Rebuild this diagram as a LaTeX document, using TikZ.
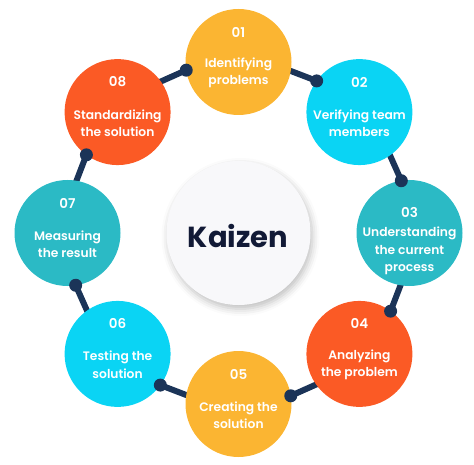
\documentclass[tikz,border=0pt]{standalone}
\usepackage{fontspec}
\setmainfont{Poppins}[UprightFont=* SemiBold, BoldFont=* Bold]
\usetikzlibrary{calc,shadows.blur}
\definecolor{cyel}{HTML}{FBB532}
\definecolor{ccya}{HTML}{0AD4F4}
\definecolor{ctea}{HTML}{2BBAC5}
\definecolor{cora}{HTML}{FB5A25}
\definecolor{navy}{HTML}{1B3458}
\definecolor{ink}{HTML}{121A36}
\definecolor{hub}{HTML}{F8F8FA}
\tikzset{
  stepcirc/.style={circle, minimum size=106pt, inner sep=0pt, fill=#1},
  numtxt/.style={text=white, inner sep=0pt, font=\fontsize{13.5}{16}\selectfont},
  bodytxt/.style={text=white, inner sep=0pt, align=center, font=\fontsize{12.3}{17.5}\selectfont},
  conn/.style={draw=navy, line width=6pt},
  dotm/.style={fill=navy, circle, minimum size=13pt, inner sep=0pt},
  hubcirc/.style={circle, minimum size=144pt, inner sep=0pt, fill=hub,
    blur shadow={shadow xshift=2pt, shadow yshift=-4pt, shadow blur radius=7pt, shadow opacity=25}}
}
\begin{document}
\begin{tikzpicture}[x=1pt,y=-1pt]
\useasboundingbox (0,0) rectangle (474,465);
\coordinate (O) at (238.5,233);
% ring coordinates
\foreach \k in {1,...,8}{
  \pgfmathsetmacro{\a}{-90+45*(\k-1)}
  \coordinate (s\k) at ($(O)+(\a+14.8:171)$);
  \coordinate (e\k) at ($(O)+(\a-17.8:171)$);
}
% connectors
\foreach \k/\j in {1/2,2/3,3/4,4/5,5/6,6/7,7/8,8/1}{
  \draw[conn] (s\k) -- (e\j);
}
% hub
\node[hubcirc] (hubn) at (238.5,233) {};
\node[text=ink, inner sep=0pt, font=\fontsize{29}{32}\bfseries\selectfont] (kz) at (238,236) {Kaizen};
% steps
\foreach \k/\col/\num/\txt/\nd/\bd in {
  1/cyel/01/{Identifying\\problems}/-30/11,
  2/ccya/02/{Verifying team\\members}/-30/11,
  3/ctea/03/{Understanding\\the current\\process}/-21/18,
  4/cora/04/{Analyzing\\the problem}/-30/11,
  5/cyel/05/{Creating the\\solution}/-30/11,
  6/ccya/06/{Testing the\\solution}/-30/11,
  7/ctea/07/{Measuring\\the result}/-30/11,
  8/cora/08/{Standardizing\\the solution}/-30/11}{
  \pgfmathsetmacro{\a}{-90+45*(\k-1)}
  \node[stepcirc=\col] (c\k) at ($(O)+(\a:171)$) {};
  \node[numtxt] (n\k) at ($(c\k)+(0,\nd)$) {\num};
  \node[bodytxt] (b\k) at ($(c\k)+(0,\bd)$) {\txt};
}
% dots
\foreach \k in {1,...,8}{
  \node[dotm] (d\k) at (e\k) {};
}
\end{tikzpicture}
\end{document}
